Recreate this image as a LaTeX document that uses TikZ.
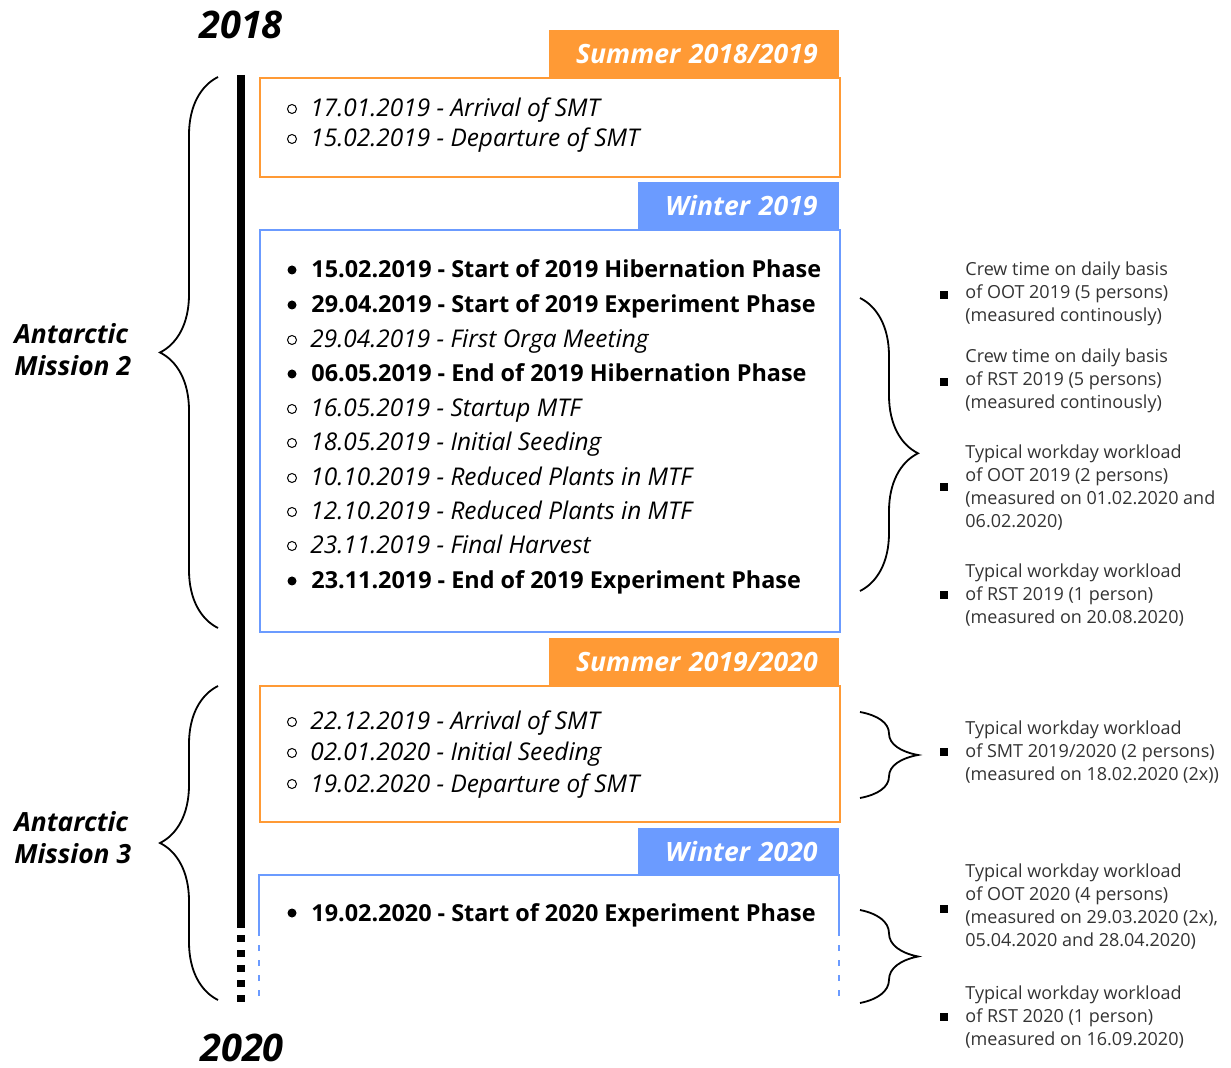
\documentclass[tikz,border=0pt]{standalone}
\usepackage{fontspec}
\setmainfont{Open Sans}
\usepackage{xcolor}
\usetikzlibrary{positioning,decorations.pathreplacing}

\definecolor{summer}{HTML}{FF9A35}
\definecolor{winter}{HTML}{6B9BFF}

\begin{document}
\begin{tikzpicture}[
        x=0.5pt, y=-0.5pt,
        year/.style={font=\fontsize{19}{22}\selectfont\bfseries\itshape, inner sep=0pt},
        mission/.style={anchor=west, align=left, inner sep=0pt, font=\fontsize{13.2}{16}\selectfont\bfseries\itshape},
        sumhead/.style={anchor=north east, fill=summer, text=white, text width=124pt, align=right, inner xsep=10.5pt, inner ysep=0pt, minimum height=23.5pt, font=\fontsize{13.3}{15}\selectfont\bfseries\itshape},
        winhead/.style={sumhead, fill=winter, text width=79.5pt},
        sumbox/.style={anchor=north west, draw=summer, line width=1pt, minimum width=290pt, inner sep=0pt},
        winbox/.style={sumbox, draw=winter},
        opt/.style={anchor=base west, inner sep=0pt, font=\fontsize{12.2}{14}\selectfont\itshape},
        key/.style={anchor=base west, inner sep=0pt, font=\fontsize{11.7}{14}\selectfont\bfseries},
        openbul/.style={circle, draw, line width=0.5pt, inner sep=0pt, minimum size=4.5pt},
        fullbul/.style={circle, fill, inner sep=0pt, minimum size=4.5pt},
        note/.style={anchor=west, align=left, inner sep=0pt, text=black!80, font=\fontsize{9}{11.5}\selectfont},
        sqbul/.style={rectangle, fill, inner sep=0pt, minimum size=4pt},
        bracket/.style={decorate, decoration={brace, amplitude=29pt}, line width=0.9pt}
    ]
        \useasboundingbox (0,0) rectangle (1231,1068);

        % years and timeline
        \node[year] (y2018) at (241,25) {2018};
        \node[year] (y2020) at (242,1048) {2020};
        \coordinate (tl_top) at (241,75);
        \coordinate (tl_cut) at (241,928);
        \coordinate (tl_dots) at (241,935);
        \coordinate (tl_end) at (241,1005);
        \draw[line width=4pt] (tl_top) -- (tl_cut);
        \draw[line width=4pt, dash pattern=on 3.5pt off 4pt] (tl_dots) -- (tl_end);

        % Summer 2018/2019
        \node[sumbox, minimum height=49.5pt] (s1819_box) at (259,77) {};
        \node[sumhead] (s1819_head) at (839,30) {Summer 2018/2019};
        \node[openbul] (s1819_ab) at (292,109) {};
        \node[opt] (s1819_a) at (310,117) {17.01.2019 - Arrival of SMT};
        \node[openbul] (s1819_bb) at (292,139) {};
        \node[opt] (s1819_b) at (310,147) {15.02.2019 - Departure of SMT};

        % Winter 2019
        \node[winbox, minimum height=201pt] (w19_box) at (259,229) {};
        \node[winhead] (w19_head) at (839,182) {Winter 2019};
        \node[fullbul] (w19_ab) at (292,270) {};
        \node[key] (w19_a) at (311,278) {15.02.2019 - Start of 2019 Hibernation Phase};
        \node[fullbul] (w19_bb) at (292,305) {};
        \node[key] (w19_b) at (311,313) {29.04.2019 - Start of 2019 Experiment Phase};
        \node[openbul] (w19_cb) at (292,340) {};
        \node[opt] (w19_c) at (310,348) {29.04.2019 - First Orga Meeting};
        \node[fullbul] (w19_db) at (292,374) {};
        \node[key] (w19_d) at (311,382) {06.05.2019 - End of 2019 Hibernation Phase};
        \node[openbul] (w19_eb) at (292,409) {};
        \node[opt] (w19_e) at (310,417) {16.05.2019 - Startup MTF};
        \node[openbul] (w19_fb) at (292,443) {};
        \node[opt] (w19_f) at (310,451) {18.05.2019 - Initial Seeding};
        \node[openbul] (w19_gb) at (292,478) {};
        \node[opt] (w19_g) at (310,486) {10.10.2019 - Reduced Plants in MTF};
        \node[openbul] (w19_hb) at (292,512) {};
        \node[opt] (w19_h) at (310,520) {12.10.2019 - Reduced Plants in MTF};
        \node[openbul] (w19_ib) at (292,546) {};
        \node[opt] (w19_i) at (310,554) {23.11.2019 - Final Harvest};
        \node[fullbul] (w19_jb) at (292,581) {};
        \node[key] (w19_j) at (311,589) {23.11.2019 - End of 2019 Experiment Phase};

        % Summer 2019/2020
        \node[sumbox, minimum height=68pt] (s1920_box) at (259,685) {};
        \node[sumhead] (s1920_head) at (839,638) {Summer 2019/2020};
        \node[openbul] (s1920_ab) at (292,722) {};
        \node[opt] (s1920_a) at (310,730) {22.12.2019 - Arrival of SMT};
        \node[openbul] (s1920_bb) at (292,753) {};
        \node[opt] (s1920_b) at (310,761) {02.01.2020 - Initial Seeding};
        \node[openbul] (s1920_cb) at (292,784) {};
        \node[opt] (s1920_c) at (310,792) {19.02.2020 - Departure of SMT};

        % Winter 2020 (open at the bottom)
        \node[winhead] (w20_head) at (839,828) {Winter 2020};
        \coordinate (w20_nw) at (259,875);
        \coordinate (w20_ne) at (839,875);
        \coordinate (w20_sw) at (259,930);
        \coordinate (w20_se) at (839,930);
        \coordinate (w20_swend) at (259,1005);
        \coordinate (w20_seend) at (839,1005);
        \draw[winter, line width=1pt] (w20_sw) -- (w20_nw) -- (w20_ne) -- (w20_se);
        \draw[winter, line width=0.8pt, dash pattern=on 3pt off 4.5pt] (w20_sw) -- (w20_swend);
        \draw[winter, line width=0.8pt, dash pattern=on 3pt off 4.5pt] (w20_se) -- (w20_seend);
        \node[fullbul] (w20_ab) at (292,913) {};
        \node[key] (w20_a) at (311,921) {19.02.2020 - Start of 2020 Experiment Phase};

        % missions
        \coordinate (m2_top) at (218,77);
        \coordinate (m2_bot) at (218,628);
        \coordinate (m3_top) at (218,686);
        \coordinate (m3_bot) at (218,1000);
        \draw[bracket] (m2_bot) -- (m2_top);
        \draw[bracket] (m3_bot) -- (m3_top);
        \node[mission] (m2) at (14,350) {Antarctic\\Mission 2};
        \node[mission] (m3) at (14,838) {Antarctic\\Mission 3};

        % measurements
        \coordinate (r1_top) at (860,298);
        \coordinate (r1_bot) at (860,591);
        \coordinate (r2_top) at (860,712);
        \coordinate (r2_bot) at (860,798);
        \coordinate (r3_top) at (860,910);
        \coordinate (r3_bot) at (860,1003);
        \draw[bracket, decoration={aspect=0.53}] (r1_top) -- (r1_bot);
        \draw[bracket] (r2_top) -- (r2_bot);
        \draw[bracket] (r3_top) -- (r3_bot);

        \node[sqbul] (n1b) at (944,295) {};
        \node[note] (n1) at (965,294) {Crew time on daily basis\\of OOT 2019 (5 persons)\\(measured continously)};
        \node[sqbul] (n2b) at (944,382) {};
        \node[note] (n2) at (965,381) {Crew time on daily basis\\of RST 2019 (5 persons)\\(measured continously)};
        \node[sqbul] (n3b) at (944,487) {};
        \node[note] (n3) at (965,488) {Typical workday workload\\of OOT 2019 (2 persons)\\(measured on 01.02.2020 and\\06.02.2020)};
        \node[sqbul] (n4b) at (944,595) {};
        \node[note] (n4) at (965,595) {Typical workday workload\\of RST 2019 (1 person)\\(measured on 20.08.2020)};
        \node[sqbul] (n5b) at (944,752) {};
        \node[note] (n5) at (965,752) {Typical workday workload\\of SMT 2019/2020 (2 persons)\\(measured on 18.02.2020 (2x))};
        \node[sqbul] (n6b) at (944,909) {};
        \node[note] (n6) at (965,907) {Typical workday workload\\of OOT 2020 (4 persons)\\(measured on 29.03.2020 (2x),\\05.04.2020 and 28.04.2020)};
        \node[sqbul] (n7b) at (944,1017) {};
        \node[note] (n7) at (965,1017) {Typical workday workload\\of RST 2020 (1 person)\\(measured on 16.09.2020)};

    \end{tikzpicture}
\end{document}
